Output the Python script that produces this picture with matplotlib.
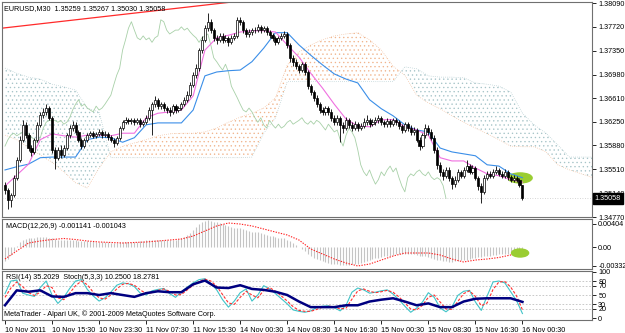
import numpy as np
import matplotlib
matplotlib.use("Agg")
import matplotlib.pyplot as plt
from matplotlib.patches import Ellipse

plt.rcParams['font.family'] = ['Liberation Sans', 'DejaVu Sans']
plt.rcParams['hatch.linewidth'] = 0.45

# EURUSD M30, prices in pips above 1.3400
BASE = 1.34
open0_p = 127
close_p = [119,103,111,138,166,197,220,204,184,178,
           197,220,235,240,246,231,181,169,181,173,
           184,204,215,220,209,197,187,197,204,207,
           203,206,209,204,206,201,197,192,200,215,
           224,227,226,227,224,227,221,224,231,243,
           252,259,249,252,246,243,240,249,243,246,
           252,259,266,282,297,308,336,352,370,380,
           367,355,352,358,352,355,348,355,358,383,
           380,367,361,364,367,367,372,367,370,364,
           359,355,348,355,358,361,344,324,318,311,
           305,314,302,280,271,262,252,243,240,246,
           240,231,224,231,220,215,227,220,215,221,
           215,218,224,227,221,224,227,231,224,221,
           226,221,227,224,218,212,221,215,209,212,
           197,187,204,215,209,200,181,158,147,141,
           150,138,128,135,147,141,150,156,147,153,
           138,125,116,138,144,141,147,150,144,141,
           147,139,135,138,135,125.9,105.8]
high_p = [132,122,115,142,170,202,228,224,207,188,
          200,224,240,246,252,250,234,186,186,188,
          188,208,220,226,224,212,200,200,208,211,
          210,209,213,212,210,209,204,200,203,218,
          228,232,231,230,230,231,230,228,235,247,
          256,264,262,256,255,250,247,253,252,250,
          256,263,272,286,302,314,340,358,375,394,
          384,370,360,362,362,359,358,359,362,388,
          387,382,370,368,371,372,377,375,374,373,
          367,362,358,358,362,366,364,347,328,322,
          314,318,318,305,284,274,266,256,247,250,
          250,244,235,236,234,224,232,231,224,226,
          225,223,230,236,231,229,232,236,234,228,
          230,229,231,231,228,222,225,225,219,216,
          215,201,208,222,219,213,204,185,162,151,
          155,154,141,140,151,150,155,166,159,158,
          156,141,129,142,149,148,152,156,153,148,
          151,150,142,142,141,138,126.7]
low_p = [112,90,92,108,134,162,193,200,180,172,
         175,194,216,230,236,228,176,152,165,168,
         170,181,200,211,205,193,183,184,194,201,
         199,200,203,200,201,197,193,186,189,197,
         212,221,222,222,220,221,217,218,221,228,
         205,248,245,245,242,238,234,237,239,240,
         243,249,255,263,278,292,304,332,348,366,
         362,350,346,348,347,348,343,345,351,355,
         375,362,356,357,360,362,364,363,364,360,
         355,350,344,345,351,354,340,318,312,306,
         300,302,297,276,266,257,247,238,235,236,
         235,226,219,220,193,208,212,215,210,212,
         211,212,215,220,217,218,220,223,220,216,
         217,217,218,220,214,207,209,211,205,205,
         193,181,184,200,205,196,176,152,141,135,
         137,133,120,124,132,137,138,147,143,144,
         134,119,98,112,135,137,138,144,140,137,
         138,135,131,132,131,123,103.0]

# ichimoku lines, sampled every 4 bars (pips above 1.3400)
tenkan_p = [125,142,159,197,206,203,201,204,204,203,207,207,231,238,240,243,265,336,355,359,
            364,366,366,364,344,325,300,277,252,229,218,217,228,228,217,212,204,169,164,164,
            153,144,141,135,131]
kijun_p = [150,155,159,169,170,170,170,197,201,200,193,200,220,223,223,223,243,296,302,304,
           305,318,339,363,363,344,328,313,299,291,285,259,245,234,220,212,209,184,178,175,
           172,158,156,144,138]
# senkou spans as displayed (already shifted 26 bars ahead), every 4 bars
span_a_p = [204,197,184,173,162,147,130,122,153,178,187,192,197,203,206,207,207,209,215,224,
            232,238,246,262,313,333,344,352,358,361,363,352,336,311,297,266,254,245,234,224,
            215,206,197,187,186,186,178,158,150,144,138]
span_b_p = [308,300,294,291,283,279,274,246,240,169,169,169,169,169,169,169,169,169,169,169,
            169,170,207,231,287,287,287,287,287,287,287,287,287,287,310,307,296,294,294,293,
            285,283,280,271,238,220,207,189,170,170,170]

# MACD(12,26,9) main per bar and signal every 4 bars, in 1e-5
macd_main = [-245,-210,-140,-70,18,88,122,140,158,158,
             166,175,175,175,175,166,158,140,122,122,
             122,122,122,122,114,105,105,105,105,105,
             105,96,88,88,88,79,70,70,70,79,
             88,88,96,96,96,96,105,105,114,122,
             122,131,131,131,122,122,122,122,131,140,
             158,175,210,245,298,350,402,438,455,464,
             455,446,438,420,402,385,368,350,332,332,
             332,315,298,280,271,262,254,245,228,210,
             192,184,175,166,158,149,131,105,70,35,
             0,-35,-70,-114,-149,-184,-210,-228,-245,-262,
             -280,-289,-298,-306,-315,-315,-315,-315,-306,-298,
             -289,-280,-262,-245,-228,-210,-192,-184,-175,-166,
             -158,-149,-140,-131,-122,-122,-122,-122,-122,-131,
             -140,-149,-158,-166,-175,-192,-210,-228,-236,-245,
             -245,-254,-254,-245,-245,-236,-228,-219,-210,-192,
             -184,-175,-175,-166,-158,-149,-140,-140,-131,-122,
             -122,-114,-114,-105,-105,-114,-114.1]
macd_sig = [-210,-70,70,105,131,149,131,105,88,79,70,79,88,105,122,140,192,280,368,420,
            402,368,315,262,210,122,-35,-122,-210,-280,-332,-298,-228,-158,-105,-105,-105,-140,-210,-262,
            -228,-210,-184,-140,-104.3]

# RSI(14) every 4 bars
rsi = [28,60,57,60,47,46,54,54,50,54,50,46,54,58,56,56,73,81,66,65,
       71,63,61,57,50,36,24,24,24,28,28,36,40,43,36,28,32,24,24,36,
       42,43,43,43,35.2]
# Stoch(5,3,3) every 2 bars
stoch_main = [53,80,82,54,50,47,66,80,50,32,45,64,80,83,62,48,37,44,56,71,
              76,74,68,54,50,59,62,64,53,45,57,67,76,83,85,75,61,40,24,37,
              55,63,37,50,70,63,53,42,31,18,15,13,16,23,26,27,23,16,28,56,
              65,61,54,56,59,61,52,40,26,13,22,35,55,45,22,14,24,49,58,60,
              35,17,48,78,80,76,57,38,10.25]
stoch_sig = [45,65,78,68,55,49,56,70,66,44,40,54,70,80,72,56,44,41,50,63,
             73,75,71,61,53,55,60,63,58,50,51,61,71,79,84,80,69,51,33,30,
             45,58,50,44,60,66,58,48,37,25,17,15,15,19,24,26,25,20,22,41,
             59,63,58,55,57,60,56,46,33,20,18,28,45,50,35,20,19,36,53,59,
             47,27,33,62,78,79,67,48,18.28]

time_labels = ["10 Nov 2011", "10 Nov 15:30", "10 Nov 23:30", "11 Nov 07:30", "11 Nov 15:30",
               "14 Nov 00:30", "14 Nov 08:30", "14 Nov 16:30", "15 Nov 00:30", "15 Nov 08:30",
               "15 Nov 16:30", "16 Nov 00:30"]
price_ticks = [1.3809, 1.3772, 1.3735, 1.3698, 1.3661, 1.3625, 1.3588, 1.3551, 1.3514, 1.3477]
macd_ticks = [0.00404, 0.0, -0.00332]
rsi_levels = [20, 30, 50, 70, 80]
rsi_ticks = [100, 80, 70, 50, 30, 20, 0]

trend_x = [-1, 78]
trend_y = [1.3770, 1.3811]
mark_bar = 175.2
mark_price = 1.35376
mark_macd = -0.00105

closes = BASE + np.array(close_p) / 1e4
highs = BASE + np.array(high_p) / 1e4
lows = BASE + np.array(low_p) / 1e4
opens = np.r_[BASE + open0_p / 1e4, closes[:-1]]
tenkan = BASE + np.array(tenkan_p) / 1e4
kijun = BASE + np.array(kijun_p) / 1e4
span_a = BASE + np.array(span_a_p) / 1e4
span_b = BASE + np.array(span_b_p) / 1e4
macd_main = np.array(macd_main) / 1e5
macd_sig = np.array(macd_sig) / 1e5

n = len(closes)
x = np.arange(n)
x4 = np.arange(0, n, 4)
x2 = np.arange(0, n, 2)
xs = np.arange(0, 4 * len(span_a), 4)

fig = plt.figure(figsize=(6.25, 3.33), dpi=100)
fig.patch.set_facecolor('white')
L, W = 2 / 625, 590 / 625
ax = fig.add_axes([L, 1 - 217 / 333, W, 215 / 333])
ax2 = fig.add_axes([L, 1 - 269 / 333, W, 50 / 333])
ax3 = fig.add_axes([L, 1 - 320 / 333, W, 49 / 333])

up_col = '#f0b48c'
dn_col = '#a6c4c8'

# cloud
ax.fill_between(xs, span_a, span_b, where=span_a >= span_b, interpolate=True,
                facecolor='none', edgecolor=up_col, hatch='....', linewidth=0, zorder=1)
ax.fill_between(xs, span_a, span_b, where=span_a < span_b, interpolate=True,
                facecolor='none', edgecolor=dn_col, hatch='....', linewidth=0, zorder=1)
ax.plot(xs, span_a, color=up_col, lw=0.5, ls=(0, (1, 2)), zorder=1)
ax.plot(xs, span_b, color=dn_col, lw=0.5, ls=(0, (1, 2)), zorder=1)

ax.axhline(closes[-1], color='#c8c8c8', lw=0.6, ls=(0, (1, 2)), zorder=1)
ax.axline((trend_x[0], trend_y[0]), (trend_x[1], trend_y[1]), color='#ff2a2a', lw=0.9, zorder=2)

ax.add_patch(Ellipse((mark_bar, mark_price), 8.2, 0.00155, color='#9acd32', zorder=2))

# chikou
ax.plot(x[:-26], closes[26:], color='#a8d0a8', lw=0.6, zorder=2)
ax.plot(x4, kijun, color='#3a8ee8', lw=0.8, zorder=2)
ax.plot(x4, tenkan, color='#f070e0', lw=0.8, zorder=2)

# candles
bull = closes >= opens
b_lo = np.minimum(opens, closes)
b_h = np.maximum(np.abs(closes - opens), 0.00003)
ax.vlines(x, lows, highs, color='black', lw=0.6, zorder=3)
ax.bar(x[bull], b_h[bull], bottom=b_lo[bull], width=0.72, color='white',
       edgecolor='black', linewidth=0.5, zorder=4)
ax.bar(x[~bull], b_h[~bull], bottom=b_lo[~bull], width=0.72, color='black',
       edgecolor='black', linewidth=0.5, zorder=4)

xlim = (-1.02, 199.66)
ax.set_xlim(xlim)
ax.set_ylim(1.3477, 1.38106)
ax.set_yticks(price_ticks)
ax.set_yticklabels(['%.5f' % v for v in price_ticks])

# MACD
ax2.vlines(x, 0, macd_main, color='#c4c4c4', lw=0.8)
ax2.plot(x4, macd_sig, color='#ff2020', lw=0.8, ls=(0, (1.2, 1.2)))
ax2.add_patch(Ellipse((mark_bar, mark_macd), 5.8, 0.0014, color='#9acd32', zorder=3))
ax2.set_xlim(xlim)
ax2.set_ylim(-0.00385, 0.0049)
ax2.set_yticks(macd_ticks)
ax2.set_yticklabels(['0.00404', '0.00', '-0.00332'])

# RSI + Stoch
for lv in rsi_levels:
    ax3.axhline(lv, color='#c0c0c0', lw=0.6, ls=(0, (2, 2)))
ax3.plot(x2, stoch_main, color='#40c4c8', lw=0.8)
ax3.plot(x2, stoch_sig, color='#ff3030', lw=0.8, ls=(0, (2.5, 1.5)))
ax3.plot(x4, rsi, color='#000080', lw=1.8)
ax3.set_xlim(xlim)
ax3.set_ylim(-3.6, 101.5)
ax3.set_yticks(rsi_ticks)
ax3.set_yticklabels([str(v) for v in rsi_ticks])
ax3.set_xticks(np.arange(0, 16 * len(time_labels), 16))
ax3.set_xticklabels(time_labels, ha='left')

for a in (ax, ax2, ax3):
    a.set_facecolor('white')
    for s in a.spines.values():
        s.set_color('#707070')
        s.set_linewidth(0.8)
    a.yaxis.tick_right()
    a.tick_params(axis='y', direction='out', length=3, width=0.6, pad=1.5, labelsize=5.2)
    a.tick_params(axis='x', direction='out', length=3, width=0.6, pad=2, labelsize=5.2)
ax.set_xticks([])
ax2.set_xticks([])

ax.text(0.004, 0.985, "EURUSD,M30  %.5f %.5f %.5f %.5f" % (opens[-1], highs[-1], lows[-1], closes[-1]),
        transform=ax.transAxes, fontsize=5.2, va='top', ha='left')
ax2.text(0.006, 0.93, "MACD(12,26,9) -0.001141 -0.001043", transform=ax2.transAxes,
         fontsize=5.2, va='top', ha='left')
ax3.text(0.006, 0.93, "RSI(14) 35.2029  Stoch(5,3,3) 10.2500 18.2781", transform=ax3.transAxes,
         fontsize=5.2, va='top', ha='left')
ax3.text(0.004, 0.04, "MetaTrader - Alpari UK, \u00a9 2001-2009 MetaQuotes Software Corp.",
         transform=ax3.transAxes, fontsize=5.2, va='bottom', ha='left')

# last price box on the price scale
ax.annotate('%.5f' % closes[-1], xy=(1.0, closes[-1]), xycoords=('axes fraction', 'data'),
            xytext=(2, 0), textcoords='offset points', fontsize=5.2, color='white',
            va='center', ha='left', annotation_clip=False,
            bbox=dict(boxstyle='square,pad=0.25', fc='black', ec='black'))

fig.savefig('out.png', dpi=100, facecolor='white')
